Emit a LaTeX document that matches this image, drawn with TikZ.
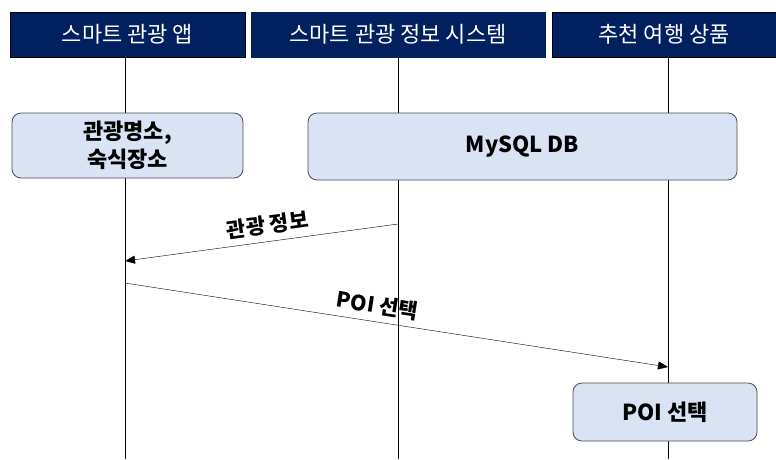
\documentclass[tikz,border=0pt]{standalone}
\usepackage{fontspec}
\setmainfont{Noto Sans CJK KR}
\usetikzlibrary{positioning}
\usetikzlibrary{arrows.meta}
\definecolor{navy}{HTML}{002060}
\definecolor{boxblue}{HTML}{DAE3F3}

\begin{document}
\begin{tikzpicture}[x=1pt,y=-1pt]
		
		\useasboundingbox (0,0) rectangle (776,459);
		
		\tikzset{
			headbox/.style={fill=navy, text=white, minimum height=45pt, inner sep=0pt,
				font=\fontsize{22}{24}\selectfont},
			actbox/.style={rounded corners=9pt, fill=boxblue, draw=black!70, thick,
				inner sep=0pt, align=center, font=\fontsize{22}{28}\selectfont\bfseries},
			msgarrow/.style={-{Triangle[length=10pt,width=8pt]}, thin},
			msglabel/.style={font=\fontsize{21}{23}\selectfont\bfseries}
		}
		
		% --- participants ---
		\node[headbox, draw=black, minimum width=235pt] (app) at (127.5,34.5) {스마트 관광 앱};
		\node[headbox, draw=navy, minimum width=294pt] (sys) at (398,34.5) {스마트 관광 정보 시스템};
		\node[headbox, draw=black, minimum width=224pt] (prod) at (664,34.5) {추천 여행 상품};
		
		% lifelines
		\coordinate (app end) at (125,459);
		\coordinate (sys end) at (398,459);
		\coordinate (prod end) at (668,459);
		\draw (app.south -| app end) -- (app end);
		\draw (sys.south -| sys end) -- (sys end);
		\draw (prod.south -| prod end) -- (prod end);
		
		% --- activity boxes ---
		\node[actbox, minimum width=231pt, minimum height=65pt] (place) at (127.5,145.5) {관광명소,\\숙식장소};
		\node[actbox, minimum width=429pt, minimum height=67pt] (db) at (522.5,146.5) {MySQL DB};
		\node[actbox, minimum width=184pt, minimum height=58pt] (poi) at (665,412) {POI 선택};
		
		% --- messages ---
		\coordinate (info from) at (398,224);
		\coordinate (info to) at (125,261);
		\draw[msgarrow] (info from) -- (info to)
			node[msglabel, pos=0.47, sloped, above=3pt] {관광 정보};
		
		\coordinate (sel from) at (125,283);
		\coordinate (sel to) at (668,367);
		\draw[msgarrow] (sel from) -- (sel to)
			node[msglabel, pos=0.46, sloped, above=3pt] {POI 선택};
		
	\end{tikzpicture}
\end{document}
